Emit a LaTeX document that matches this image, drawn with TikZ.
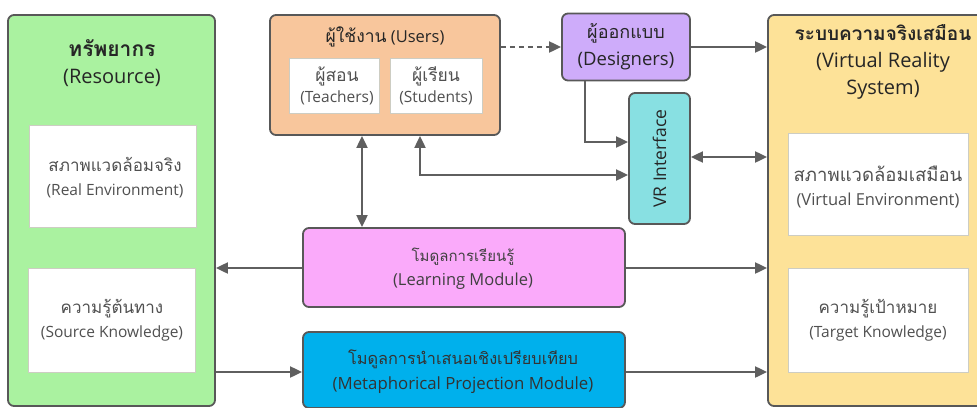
\documentclass[tikz,border=0pt]{standalone}
\usepackage{fontspec}
\setmainfont{Open Sans}
\newfontfamily\thf[Script=Thai]{Loma}
\newcommand\thx[2]{{\thf\fontsize{#1}{#1}\selectfont #2}}
\newcommand\thb[2]{{\thf\bfseries\fontsize{#1}{#1}\selectfont #2}}
\usetikzlibrary{arrows.meta}
\definecolor{edgec}{RGB}{88,88,88}
\definecolor{arrc}{RGB}{95,95,95}
\definecolor{wedge}{RGB}{205,205,195}
\definecolor{resc}{RGB}{170,242,160}
\definecolor{userc}{RGB}{248,198,156}
\definecolor{desc}{RGB}{206,172,250}
\definecolor{vric}{RGB}{136,224,226}
\definecolor{vrsc}{RGB}{253,226,152}
\definecolor{learnc}{RGB}{250,170,250}
\definecolor{metac}{RGB}{0,176,236}
\definecolor{txtg}{RGB}{80,80,80}
\begin{document}
\begin{tikzpicture}[x=1pt,y=-1pt,
  bigbox/.style={draw=edgec,line width=1.8pt,rounded corners=6pt,inner sep=0pt},
  wbox/.style={draw=wedge,fill=white,line width=0.6pt,inner sep=0pt},
  arr/.style={draw=arrc,line width=2pt,-{Triangle[length=12pt,width=11pt]}},
  darr/.style={draw=arrc,line width=2pt,{Triangle[length=12pt,width=11pt]}-{Triangle[length=12pt,width=11pt]}},
  body/.style={font=\fontsize{15.5}{24}\selectfont,text=txtg,align=center,inner sep=0pt},
  title/.style={font=\fontsize{20}{27}\selectfont,text=black!85,align=center,inner sep=0pt}]
\useasboundingbox (0,0) rectangle (977,407);
\clip (0,0) rectangle (977,407);
% main boxes
\node[bigbox,fill=resc,minimum width=207pt,minimum height=391pt] (res) at (111.5,210.5) {};
\node[bigbox,fill=vrsc,minimum width=222pt,minimum height=391pt] (vrs) at (879,210.5) {};
\node[bigbox,fill=userc,minimum width=230pt,minimum height=120pt] (users) at (385,75) {};
\node[bigbox,fill=desc,minimum width=128pt,minimum height=67pt] (des) at (626,47) {};
\node[bigbox,fill=vric,minimum width=61pt,minimum height=131pt] (vri) at (659.5,158.5) {};
\node[bigbox,fill=learnc,minimum width=322pt,minimum height=79pt] (learn) at (464,267.5) {};
\node[bigbox,fill=metac,minimum width=322pt,minimum height=76pt] (meta) at (464,370) {};
% white boxes
\node[wbox,minimum width=167pt,minimum height=102pt] (re) at (113,176) {};
\node[wbox,minimum width=167pt,minimum height=104pt] (sk) at (112,320) {};
\node[wbox,minimum width=180pt,minimum height=102pt] (ve) at (878,184) {};
\node[wbox,minimum width=180pt,minimum height=104pt] (tk) at (878,320) {};
\node[wbox,minimum width=90pt,minimum height=55pt] (tea) at (334,85.5) {};
\node[wbox,minimum width=92pt,minimum height=55pt] (stu) at (436,85.5) {};
% texts
\node[title] (tres) at (112,63) {\thb{21}{ทรัพยากร}\\(Resource)};
\node[body] (tre) at (115,178) {\thx{17}{สภาพแวดล้อมจริง}\\(Real Environment)};
\node[body] (tsk) at (sk.center) {\thx{17}{ความรู้ต้นทาง}\\(Source Knowledge)};
\node[title,font=\fontsize{16.5}{26}\selectfont] (tusers) at (385,37) {\thx{17.5}{ผู้ใช้งาน} (Users)};
\node[body,font=\fontsize{15.5}{21}\selectfont] (ttea) at (337,86) {\thx{17.5}{ผู้สอน}\\(Teachers)};
\node[body,font=\fontsize{15.5}{21}\selectfont] (tstu) at (stu.center) {\thx{17.5}{ผู้เรียน}\\(Students)};
\node[title,font=\fontsize{18.5}{27}\selectfont] (tdes) at (des.center) {\thx{18}{ผู้ออกแบบ}\\(Designers)};
\node[title,rotate=90,font=\fontsize{17.5}{22}\selectfont] (tvri) at (vri.center) {VR Interface};
\node[title] (tvrs) at (883,62) {\thb{19}{ระบบความจริงเสมือน}\\(Virtual Reality\\System)};
\node[body,font=\fontsize{16.5}{24}\selectfont] (tve) at (878,187) {\thx{18.5}{สภาพแวดล้อมเสมือน}\\(Virtual Environment)};
\node[body] (ttk) at (tk.center) {\thx{17}{ความรู้เป้าหมาย}\\(Target Knowledge)};
\node[body,font=\fontsize{16.5}{24}\selectfont,text=black!75] (tlearn) at (463,269) {\thx{15}{โมดูลการเรียนรู้}\\(Learning Module)};
\node[body,font=\fontsize{16.8}{25}\selectfont,text=black!80] (tmeta) at (463,372) {\thx{16.3}{โมดูลการนำเสนอเชิงเปรียบเทียบ}\\(Metaphorical Projection Module)};
% connectors
\draw[arr,dash pattern=on 5pt off 4pt] (users.east |- 0,47) -- (des.west |- 0,47);
\draw[arr] (des.east |- 0,47) -- (vrs.west |- 0,47);
\draw[arr] (des.south -| 585,0) |- (vri.west |- 0,142);
\draw[darr] (users.south -| 420,0) |- (vri.west |- 0,175);
\draw[darr] (users.south -| 362,0) -- (learn.north -| 362,0);
\draw[darr] (vri.east |- 0,157) -- (vrs.west |- 0,157);
\draw[arr] (learn.west |- 0,268) -- (res.east |- 0,268);
\draw[arr] (learn.east |- 0,268) -- (vrs.west |- 0,268);
\draw[arr] (res.east |- 0,372) -- (meta.west |- 0,372);
\draw[arr] (meta.east |- 0,372) -- (vrs.west |- 0,372);
\end{tikzpicture}
\end{document}
